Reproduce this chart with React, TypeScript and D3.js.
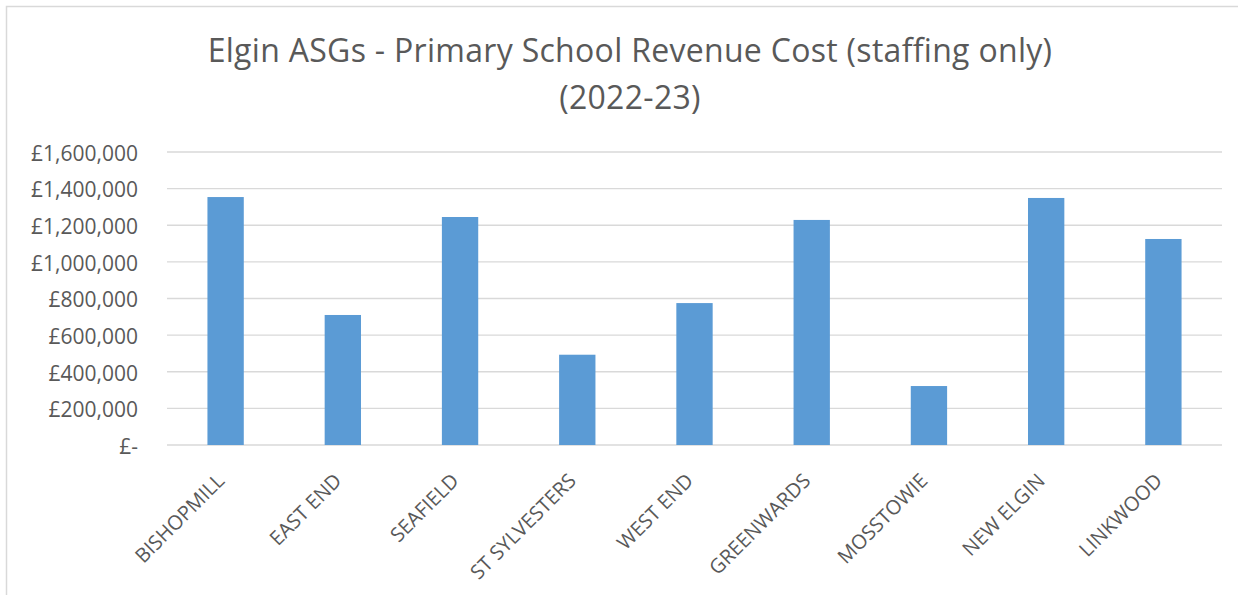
import React from "react";
import * as d3 from "d3";

const categories = ["BISHOPMILL", "EAST END", "SEAFIELD", "ST SYLVESTERS", "WEST END", "GREENWARDS", "MOSSTOWIE", "NEW ELGIN", "LINKWOOD"];
const values = [1354000, 710000, 1245000, 493000, 775000, 1229000, 322000, 1349000, 1125000];
const yTicks = [0, 200000, 400000, 600000, 800000, 1000000, 1200000, 1400000, 1600000];
const titleLines = ["Elgin ASGs - Primary School Revenue Cost (staffing only)", "(2022-23)"];

const W = 1238;
const H = 595;
const FONT = "'Open Sans', Lato, sans-serif";

export default function App() {
  const plot = { left: 167, right: 1222, top: 152, bottom: 445 };
  const x = d3.scaleBand<string>().domain(categories).range([plot.left, plot.right]).paddingInner(0.69).paddingOuter(0.345);
  const y = d3.scaleLinear().domain([0, 1600000]).range([plot.bottom, plot.top]);
  const fmt = (v: number) => (v === 0 ? "£-" : "£" + d3.format(",")(v));
  const grey = "#595959";

  return (
    <svg width={W} height={H} style={{ position: "fixed", left: 0, top: 0, background: "#fff" }} fontFamily={FONT}>
      <rect x={6.5} y={6.5} width={W + 10} height={H + 10} fill="#fff" stroke="#d9d9d9" strokeWidth={1.5} />
      {titleLines.map((t, i) => (
        <text key={i} x={630} y={62 + i * 47} textAnchor="middle" fontSize={32} fill={grey} letterSpacing={0.3}>{t}</text>
      ))}
      {yTicks.map((t) => (
        <g key={t}>
          <line x1={plot.left} x2={plot.right} y1={y(t)} y2={y(t)} stroke="#d9d9d9" strokeWidth={t === 0 ? 1.5 : 1.3} />
          <text x={138} y={y(t)} dy="0.42em" textAnchor="end" fontSize={21} fill={grey}>{fmt(t)}</text>
        </g>
      ))}
      {categories.map((c, i) => (
        <rect key={c} x={x(c)} y={y(values[i])} width={x.bandwidth()} height={y(0) - y(values[i])} fill="#5b9bd5" />
      ))}
      {categories.map((c) => {
        const cx = (x(c) as number) + x.bandwidth() / 2;
        const cy = 482;
        return (
          <text key={c} transform={`translate(${cx},${cy}) rotate(-45)`} textAnchor="end" fontSize={20} fill={grey}>{c}</text>
        );
      })}
    </svg>
  );
}
